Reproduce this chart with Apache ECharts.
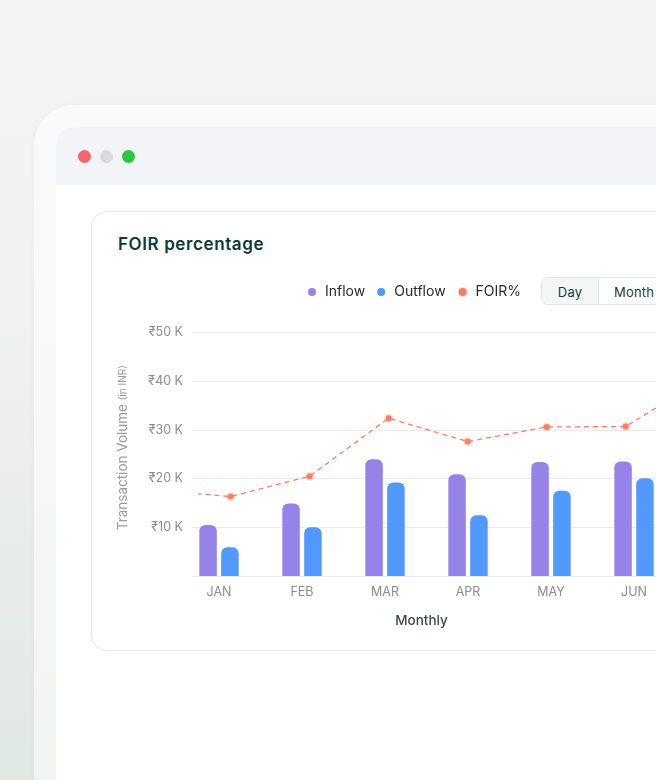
<!DOCTYPE html>
<html>
<head>
<meta charset="utf-8">
<script src="https://cdn.jsdelivr.net/npm/echarts@6/dist/echarts.min.js"></script>
<style>
  html, body { margin: 0; padding: 0; width: 656px; height: 780px; overflow: hidden; }
  body {
    position: relative;
    font-family: Inter, "Noto Sans", sans-serif;
    background: linear-gradient(180deg, #f4f4f4 0%, #f0f1f0 40%, #e0e8e2 100%);
  }
  .frame {
    position: absolute; left: 34px; top: 105px; width: 760px; height: 760px;
    border-radius: 40px; background: rgba(255,255,255,0.55);
    box-shadow: 0 0 6px rgba(0,0,0,0.03);
  }
  .window {
    position: absolute; left: 56px; top: 127px; width: 720px; height: 700px;
    border-radius: 18px 0 0 0; background: #fff; overflow: hidden;
  }
  .bar { height: 58px; background: #f3f4f8; position: relative; }
  .dot { position: absolute; top: 23px; width: 13px; height: 13px; border-radius: 50%; }
  .card {
    position: absolute; left: 91px; top: 211px; width: 700px; height: 438px;
    border: 1px solid #e6e6e6; border-radius: 16px; background: #fff;
  }
  .title {
    position: absolute; left: 118px; top: 234px; font-size: 17px; line-height: 20px;
    font-weight: 600; color: #0c3a35; letter-spacing: 0.6px;
  }
  .toggle {
    position: absolute; left: 541px; top: 277px; height: 26px; width: 200px;
    border: 1px solid #e4e4e4; border-radius: 7px; display: flex; overflow: hidden;
    font-size: 13px; font-weight: 400; color: #123f3a; letter-spacing: 0.2px;
  }
  .toggle div { line-height: 28px; }
  .day { width: 56px; text-align: center; background: #f4f5f5; border-right: 1px solid #e4e4e4; }
  .month { padding-left: 15px; }
  #chart { position: absolute; left: 0; top: 0; width: 760px; height: 780px; }
</style>
</head>
<body>
<div class="frame"></div>
<div class="window">
  <div class="bar">
    <div class="dot" style="left:21.5px;background:#f06a6c"></div>
    <div class="dot" style="left:43.5px;background:#d9dbdf"></div>
    <div class="dot" style="left:65.5px;background:#2bc63f"></div>
  </div>
</div>
<div class="card"></div>
<div class="title">FOIR percentage</div>
<div class="toggle"><div class="day">Day</div><div class="month">Month</div></div>
<div id="chart"></div>
<script>
// bars (thousand INR)
var months = ['JAN', 'FEB', 'MAR', 'APR', 'MAY', 'JUN'];
var inflow = [10.5, 14.9, 24.0, 20.9, 23.4, 23.5];
var outflow = [5.9, 10.0, 19.2, 12.5, 17.5, 20.1];
// FOIR line, runs past both edges of the visible plot
var foirMonths = ['DEC', 'JAN', 'FEB', 'MAR', 'APR', 'MAY', 'JUN', 'JUL'];
var foir = [17.7, 16.3, 20.5, 32.4, 27.6, 30.6, 30.7, 40.6];
var yTicks = [0, 10, 20, 30, 40, 50];

var font = 'Inter, "Noto Sans", sans-serif';
var myChart = echarts.init(document.getElementById('chart'));

var foirData = [];
for (var i = 0; i < foir.length; i++) {
  foirData.push([i - 1, foir[i]]);
}

var option = {
  animation: false,
  textStyle: { fontFamily: font },
  legend: {
    data: ['Inflow', 'Outflow', 'FOIR%'],
    icon: 'circle',
    left: 303,
    top: 280,
    itemWidth: 16,
    itemHeight: 8,
    itemGap: 12,
    textStyle: { fontSize: 14, color: '#2b2b2b', fontFamily: font }
  },
  grid: [
    { left: 192, right: 20, top: 332.5, bottom: 204 },
    { left: 177.5, width: 498, top: 332.5, bottom: 200.3 },
    { left: 199, right: 20, top: 332.5, bottom: 204 }
  ],
  xAxis: [
    { gridIndex: 0, type: 'value', show: false, min: 0, max: 1 },
    {
      gridIndex: 1,
      type: 'category',
      data: months,
      axisLine: { show: false },
      axisTick: { show: false },
      axisLabel: { color: '#8c8c8c', fontSize: 12.5, margin: 6 },
      name: 'Monthly',
      nameLocation: 'middle',
      nameGap: 34,
      nameTextStyle: { color: '#3d4757', fontSize: 13.5, fontWeight: 500, padding: [0, 10, 0, 0] }
    },
    { gridIndex: 2, type: 'value', show: false, min: -0.401, max: 6.447 }
  ],
  yAxis: [
    {
      gridIndex: 0,
      type: 'value',
      min: yTicks[0],
      max: yTicks[yTicks.length - 1],
      interval: 10,
      axisLine: { show: false },
      axisTick: { show: false },
      splitLine: { lineStyle: { color: '#ebebeb', width: 1 } },
      axisLabel: {
        color: '#8c8c8c',
        fontSize: 12.5,
        margin: 9,
        formatter: function (v) { return v === 0 ? '' : '\u20b9' + v + ' K'; }
      },
      name: '{a|Transaction Volume }{b|(in INR)}',
      nameLocation: 'middle',
      nameGap: 62,
      nameTextStyle: {
        padding: [0, 0, 0, 13],
        rich: {
          a: { fontSize: 13.5, color: '#9a9a9a', fontFamily: font },
          b: { fontSize: 10, color: '#9a9a9a', fontFamily: font }
        }
      }
    },
    { gridIndex: 1, type: 'value', show: false, min: -0.75, max: 50 },
    { gridIndex: 2, type: 'value', show: false, min: 0, max: 50 }
  ],
  series: [
    {
      name: 'Inflow',
      type: 'bar',
      xAxisIndex: 1,
      yAxisIndex: 1,
      data: inflow,
      barWidth: 17.5,
      barGap: '25%',
      itemStyle: { color: '#9683ea', borderRadius: [6, 6, 0, 0] }
    },
    {
      name: 'Outflow',
      type: 'bar',
      xAxisIndex: 1,
      yAxisIndex: 1,
      data: outflow,
      barWidth: 17.5,
      itemStyle: { color: '#5198ff', borderRadius: [6, 6, 0, 0] }
    },
    {
      name: 'FOIR%',
      type: 'line',
      xAxisIndex: 2,
      yAxisIndex: 2,
      data: foirData,
      clip: true,
      z: 5,
      symbol: 'circle',
      symbolSize: 6,
      lineStyle: { color: '#ff7e62', width: 1.3, type: [5, 4] },
      itemStyle: { color: '#ff7e62', borderColor: 'rgba(255,126,98,0.25)', borderWidth: 3 }
    }
  ]
};
myChart.setOption(option);
</script>
</body>
</html>
